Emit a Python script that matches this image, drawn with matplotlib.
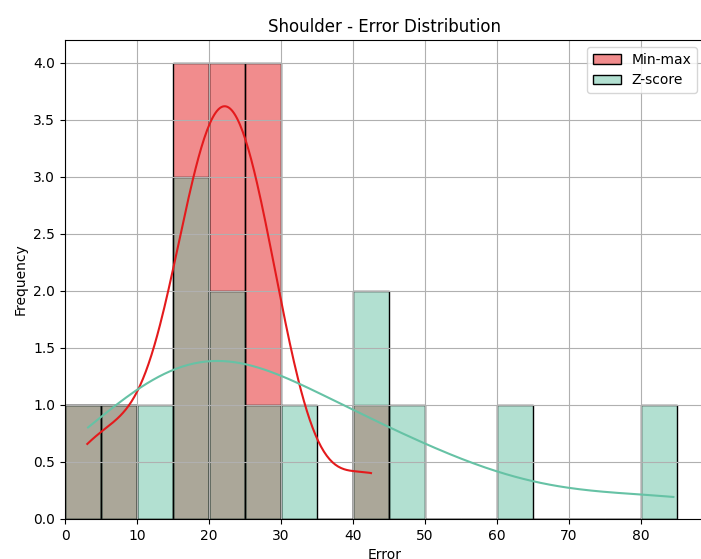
import numpy as np
import matplotlib
matplotlib.use('Agg')
import matplotlib.pyplot as plt
import seaborn as sns

# errors per sample (bins of width 5)
minmax_err = [3.1, 8.0, 16.5, 18.0, 18.5, 19.5, 20.5, 21.5, 22.5, 24.0,
              25.5, 26.5, 27.0, 28.5, 42.5]
zscore_err = [3.2, 8.0, 12.0, 16.5, 18.0, 19.5, 21.5, 24.5, 27.0, 32.0,
              41.0, 43.5, 47.0, 62.0, 84.5]
bins = np.arange(0, 90, 5)

fig = plt.figure(figsize=(7.01, 5.59), dpi=100)
ax = fig.add_axes([65 / 701, 1 - 519 / 559, 639 / 701, 479 / 559])

sns.histplot(minmax_err, bins=bins, kde=True, color='#e41a1c', alpha=0.5,
             edgecolor='black', label='Min-max', ax=ax)
sns.histplot(zscore_err, bins=bins, kde=True, color='#66c2a5', alpha=0.5,
             edgecolor='black', label='Z-score', ax=ax)

ax.set_xlim(0, 88.75)
ax.set_ylim(0, 4.2)
ax.set_title('Shoulder - Error Distribution')
ax.set_xlabel('Error')
ax.set_ylabel('Frequency')
ax.grid(True)
ax.legend(loc='upper right')

fig.savefig('out.png', dpi=100)
